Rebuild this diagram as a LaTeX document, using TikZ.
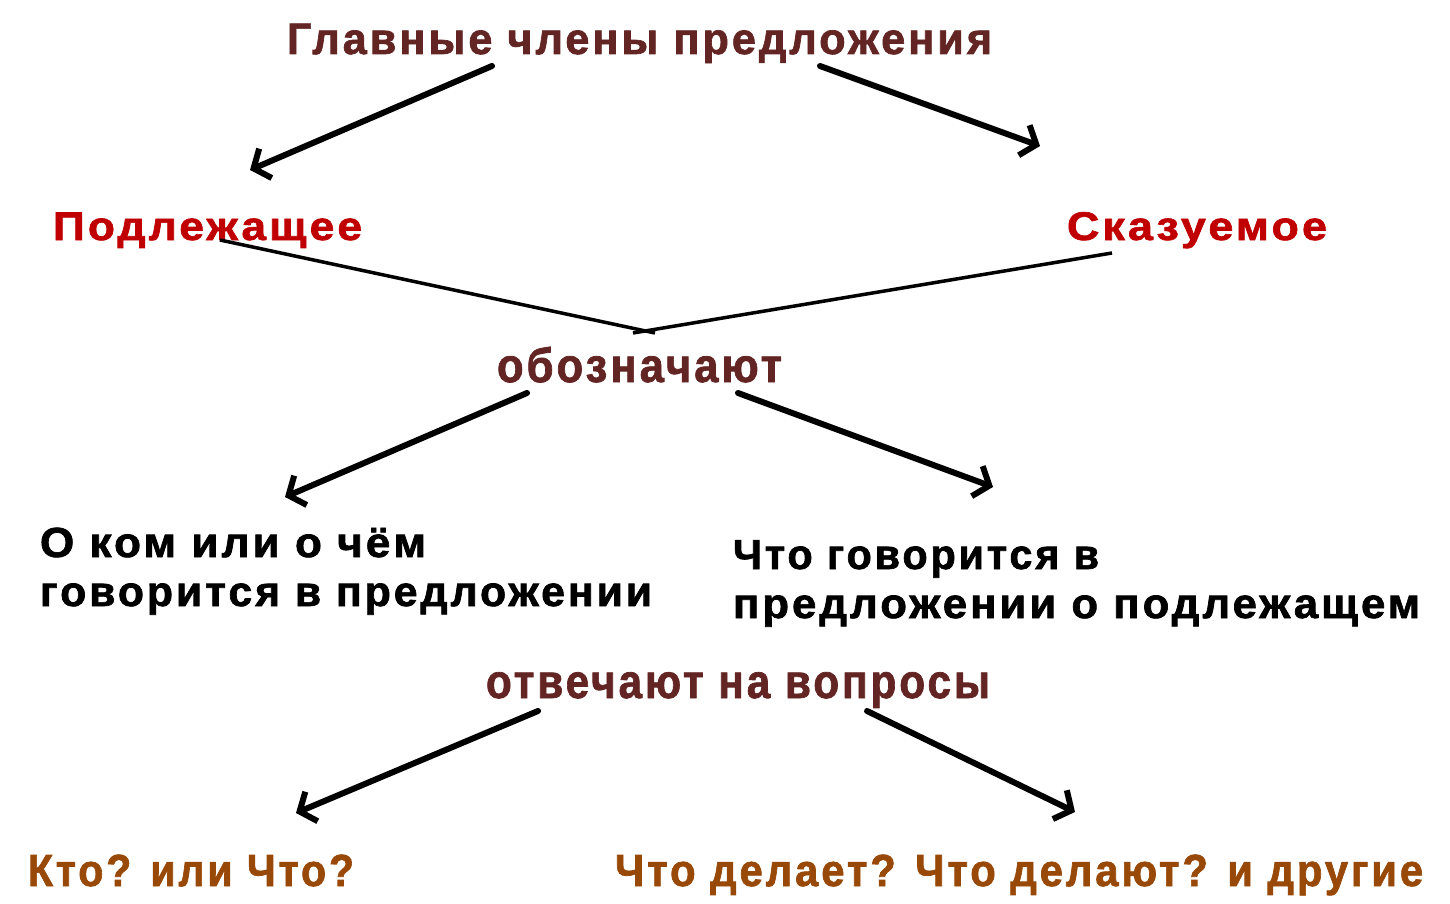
\documentclass[tikz,border=0pt]{standalone}
\usepackage{fontspec}
\setmainfont{Liberation Sans}[BoldFeatures={FakeBold=1.6,LetterSpace=7}]
\usetikzlibrary{arrows.meta}
\definecolor{titlecol}{HTML}{632523}
\definecolor{redcol}{HTML}{C00000}
\definecolor{browncol}{HTML}{984807}
\newcommand\fitw[3]{\resizebox{#1pt}{\height}{\fontsize{#2}{#2}\selectfont\bfseries #3}}
\tikzset{
  lbl/.style={anchor=base west, inner sep=0pt, outer sep=0pt},
  arr/.style={line width=6pt, -{Straight Barb[length=13pt,width=32pt,line width=6pt]}, line cap=round},
  conn/.style={line width=3.5pt, line cap=butt}
}
\begin{document}
\begin{tikzpicture}[x=1pt,y=-1pt]
\useasboundingbox (0,0) rectangle (1450,904);
% texts
\node[lbl, text=titlecol] (title) at (287,54) {\fitw{705}{44}{Главные члены предложения}};
\node[lbl, text=redcol] (podl) at (53,240) {\fitw{309}{40}{Подлежащее}};
\node[lbl, text=redcol] (skaz) at (1067,240) {\fitw{260}{40}{Сказуемое}};
\node[lbl, text=titlecol] (oboz) at (497,382) {\fitw{285}{48}{обозначают}};
\node[lbl, text=black] (left1) at (40,557) {\fitw{386}{42}{О ком или о чём}};
\node[lbl, text=black] (left2) at (40,606) {\fitw{612}{42}{говорится в предложении}};
\node[lbl, text=black] (right1) at (733,569) {\fitw{366}{42}{Что говорится в}};
\node[lbl, text=black] (right2) at (733,618) {\fitw{687}{42}{предложении о подлежащем}};
\node[lbl, text=titlecol] (otv) at (486,698) {\fitw{504}{48}{отвечают на вопросы}};
\node[lbl, text=browncol] (kto) at (28,886) {\fitw{326}{45}{Кто? или Что?}};
\node[lbl, text=browncol] (chto) at (615,886) {\fitw{808}{45}{Что делает? Что делают? и другие}};
% connector points
\coordinate (a1s) at (492,66);  \coordinate (a1e) at (250,170);
\coordinate (a2s) at (820,66);  \coordinate (a2e) at (1040,146);
\coordinate (c1s) at (220,240); \coordinate (c1e) at (655,333);
\coordinate (c2s) at (1112,253); \coordinate (c2e) at (633,333);
\coordinate (a3s) at (527,393); \coordinate (a3e) at (285,497);
\coordinate (a4s) at (738,393); \coordinate (a4e) at (993,487);
\coordinate (a5s) at (538,711); \coordinate (a5e) at (296,813);
\coordinate (a6s) at (867,711); \coordinate (a6e) at (1075,812);
\draw[arr] (a1s) -- (a1e);
\draw[arr] (a2s) -- (a2e);
\draw[conn] (c1s) -- (c1e);
\draw[conn] (c2s) -- (c2e);
\draw[arr] (a3s) -- (a3e);
\draw[arr] (a4s) -- (a4e);
\draw[arr] (a5s) -- (a5e);
\draw[arr] (a6s) -- (a6e);
\end{tikzpicture}
\end{document}
